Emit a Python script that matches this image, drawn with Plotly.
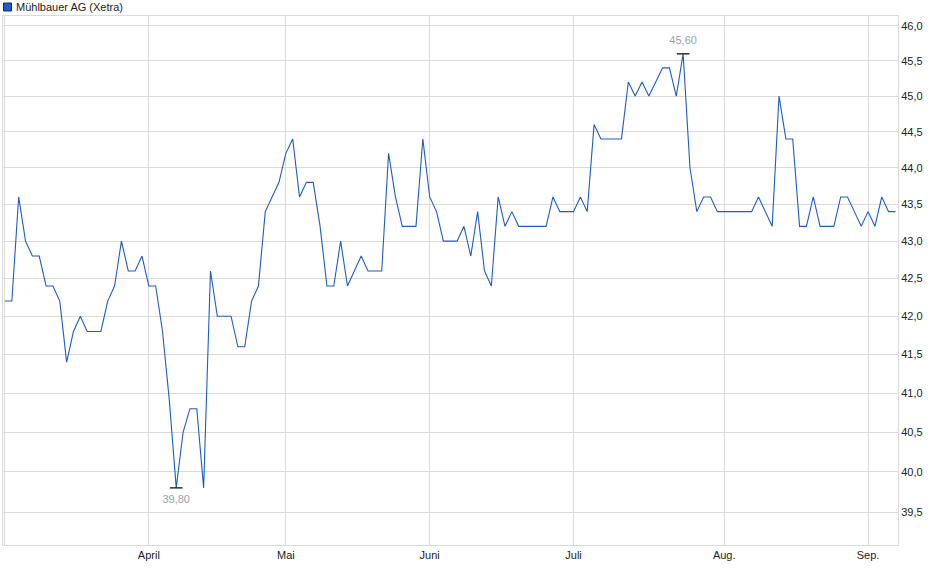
import numpy as np
import plotly.graph_objects as go

# Schlusskurse (Handelstage, Index 0 = erster Tag im Chart)
prices = [
    42.2, 42.2, 43.6, 43.0, 42.8, 42.8, 42.4, 42.4, 42.2, 41.4,
    41.8, 42.0, 41.8, 41.8, 41.8, 42.2, 42.4, 43.0, 42.6, 42.6,
    42.8, 42.4, 42.4, 41.8, 40.9, 39.8, 40.5, 40.8, 40.8, 39.8,
    42.6, 42.0, 42.0, 42.0, 41.6, 41.6, 42.2, 42.4, 43.4, 43.6,
    43.8, 44.2, 44.4, 43.6, 43.8, 43.8, 43.2, 42.4, 42.4, 43.0,
    42.4, 42.6, 42.8, 42.6, 42.6, 42.6, 44.2, 43.6, 43.2, 43.2,
    43.2, 44.4, 43.6, 43.4, 43.0, 43.0, 43.0, 43.2, 42.8, 43.4,
    42.6, 42.4, 43.6, 43.2, 43.4, 43.2, 43.2, 43.2, 43.2, 43.2,
    43.6, 43.4, 43.4, 43.4, 43.6, 43.4, 44.6, 44.4, 44.4, 44.4,
    44.4, 45.2, 45.0, 45.2, 45.0, 45.2, 45.4, 45.4, 45.0, 45.6,
    44.0, 43.4, 43.6, 43.6, 43.4, 43.4, 43.4, 43.4, 43.4, 43.4,
    43.6, 43.4, 43.2, 45.0, 44.4, 44.4, 43.2, 43.2, 43.6, 43.2,
    43.2, 43.2, 43.6, 43.6, 43.4, 43.2, 43.4, 43.2, 43.6, 43.4,
    43.4,
]
days = list(range(len(prices)))

# erster Handelstag je Monat -> senkrechte Gitterlinien
month_idx = [0, 21, 41, 62, 83, 105, 126]
month_labels = ["", "April", "Mai", "Juni", "Juli", "Aug.", "Sep."]

y_ticks = [39.5, 40.0, 40.5, 41.0, 41.5, 42.0, 42.5, 43.0, 43.5, 44.0, 44.5, 45.0, 45.5, 46.0]

name = "Mühlbauer AG (Xetra)"

LINE = "#1f5cc4"
GRID = "#dadada"
FONT = "Liberation Sans, Arial, sans-serif"

i_max = int(np.argmax(prices))
i_min = int(np.argmin(prices))

fig = go.Figure()
fig.add_trace(go.Scatter(
    x=days, y=prices, mode="lines", name=name,
    line=dict(color=LINE, width=1.1), showlegend=False,
))
# Hoch / Tief mit Wert
fig.add_trace(go.Scatter(
    x=[days[i_max]], y=[prices[i_max]], mode="markers+text",
    marker=dict(symbol="line-ew", size=9, line=dict(color="#111111", width=1.3)),
    text=[f"{prices[i_max]:.2f}".replace(".", ",")], textposition="top center",
    textfont=dict(color="#9aa0a8", size=11, family=FONT), showlegend=False,
))
fig.add_trace(go.Scatter(
    x=[days[i_min]], y=[prices[i_min]], mode="markers+text",
    marker=dict(symbol="line-ew", size=9, line=dict(color="#111111", width=1.3)),
    text=[f"{prices[i_min]:.2f}".replace(".", ",")], textposition="bottom center",
    textfont=dict(color="#9aa0a8", size=11, family=FONT), showlegend=False,
))

# Legendenkästchen + Titel oben links
fig.add_shape(
    type="rect", xref="paper", yref="paper", xsizemode="pixel", ysizemode="pixel",
    xanchor=0, yanchor=1, x0=0.5, x1=8.5, y0=5, y1=13,
    fillcolor=LINE, line=dict(color="#1a2a55", width=1),
)
fig.add_annotation(
    text=name, xref="paper", yref="paper", x=0, y=1, xanchor="left", yanchor="middle",
    xshift=11, yshift=9, showarrow=False, font=dict(size=11, color="#222222", family=FONT),
)

fig.update_layout(
    width=940, height=579,
    margin=dict(l=3, r=42, t=16, b=34),
    paper_bgcolor="white", plot_bgcolor="white",
    separators=",.",
    font=dict(family=FONT, size=11, color="#222222"),
    xaxis=dict(
        range=[-0.29, 130.37], tickmode="array", tickvals=month_idx, ticktext=month_labels,
        showgrid=True, gridcolor=GRID, gridwidth=1, zeroline=False,
        showline=True, linecolor=GRID, linewidth=1, mirror=True, ticks="",
    ),
    yaxis=dict(
        type="log", side="right",
        range=[np.log10(39.094), np.log10(46.144)],
        tickmode="array", tickvals=y_ticks, tickformat=".1f",
        showgrid=True, gridcolor=GRID, gridwidth=1, zeroline=False,
        showline=True, linecolor=GRID, linewidth=1, mirror=True, ticks="",
    ),
)

fig.write_html(
    "out.html",
    config={"displayModeBar": False},
    post_script="document.body.style.margin='0';",
)
